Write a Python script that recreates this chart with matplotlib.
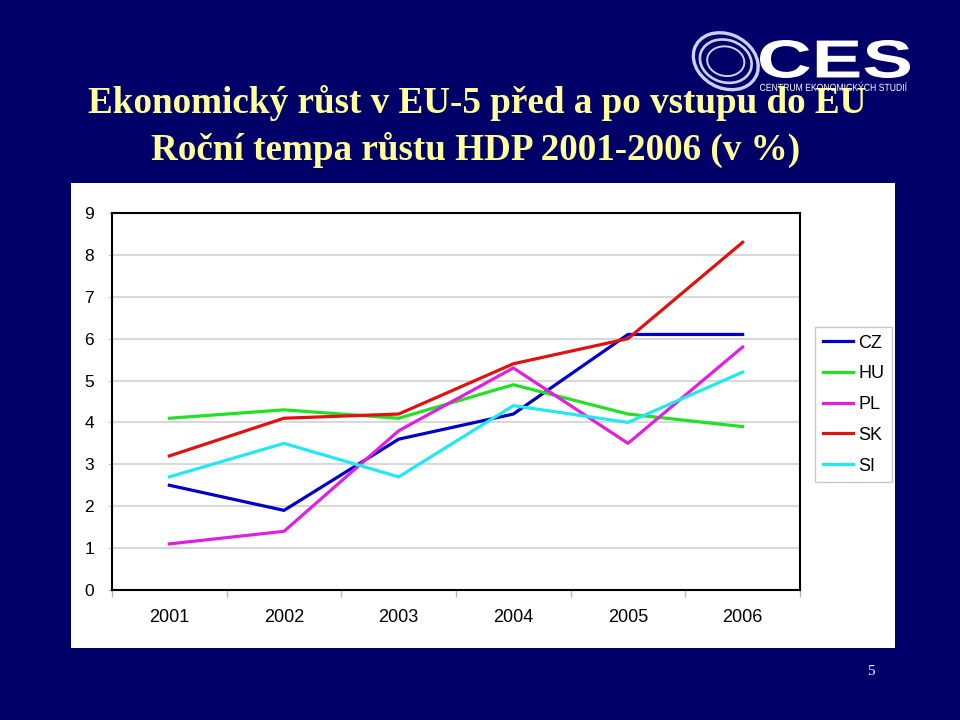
import numpy as np
import matplotlib.pyplot as plt
from matplotlib.patches import Rectangle, Ellipse, PathPatch
from matplotlib.textpath import TextPath
from matplotlib.font_manager import FontProperties
from matplotlib.transforms import Affine2D

years = ['2001', '2002', '2003', '2004', '2005', '2006']
countries = ['CZ', 'HU', 'PL', 'SK', 'SI']
cz = [2.5, 1.9, 3.6, 4.2, 6.1, 6.1]
hu = [4.1, 4.3, 4.1, 4.9, 4.2, 3.9]
pl = [1.1, 1.4, 3.8, 5.3, 3.5, 5.8]
sk = [3.2, 4.1, 4.2, 5.4, 6.0, 8.3]
si = [2.7, 3.5, 2.7, 4.4, 4.0, 5.2]
colors = ['#0000c8', '#22e022', '#e020e0', '#e0120f', '#22e8f0']

navy = '#000068'
sans = 'Liberation Sans'
serif = 'Liberation Serif'

fig = plt.figure(figsize=(9.6, 7.2), dpi=100)
fig.patch.set_facecolor(navy)


def boxed_text(s, x0, x1, y0, y1, weight='bold'):
    # stretch a text path to fill a box given in pixels from the top-left
    tp = TextPath((0, 0), s, size=1, prop=FontProperties(family=sans, weight=weight))
    ext = tp.get_extents()
    sx = (x1 - x0) / 100 / ext.width
    sy = (y1 - y0) / 100 / ext.height
    tr = Affine2D().translate(-ext.x0, -ext.y0).scale(sx, sy).translate(x0 / 100, (720 - y1) / 100)
    fig.patches.append(PathPatch(tp, transform=tr + fig.dpi_scale_trans,
                                 facecolor='white', edgecolor='none'))


# white panel behind the chart
fig.patches.append(Rectangle((0.074, 0.1), 0.858, 0.646, transform=fig.transFigure,
                             facecolor='white', edgecolor='none', zorder=-1))

# titles
fig.text(0.497, 0.857, 'Ekonomický růst v EU-5 před a po vstupu do EU', ha='center', va='center',
         color='#ffff99', fontsize=26.7, fontweight='bold', family=serif)
fig.text(0.495, 0.792, 'Roční tempa růstu HDP 2001-2006 (v %)', ha='center', va='center',
         color='#ffff99', fontsize=26.7, fontweight='bold', family=serif)

# rough CES logo
for i, (w, h) in enumerate([(0.064, 0.082), (0.052, 0.062), (0.038, 0.042)]):
    fig.patches.append(Ellipse((0.756, 0.915), w, h, angle=25, transform=fig.transFigure,
                               facecolor='none', edgecolor='#c8d2f0', lw=2.4 - i * 0.5))
boxed_text('CES', 760, 910, 40, 78)
boxed_text('CENTRUM EKONOMICKÝCH STUDIÍ', 760, 907, 82, 91, weight='normal')

# slide number
fig.text(0.907, 0.068, '5', ha='center', va='center', color='white', fontsize=11, family=serif)

ax = fig.add_axes([0.1167, 0.1806, 0.7166, 0.5236])
ax.set_zorder(1)
ax.set_facecolor('white')
x = np.arange(len(years))
for name, vals, c in zip(countries, [cz, hu, pl, sk, si], colors):
    ax.plot(x, vals, color=c, lw=2.3, label=name, zorder=3)

ax.set_xlim(-0.5, len(years) - 0.5)
ax.set_ylim(0, 9)
ax.set_yticks(range(10))
ax.set_xticks(x)
ax.set_xticklabels(years)
ax.set_xticks(np.arange(-0.5, len(years)), minor=True)
ax.tick_params(axis='x', which='major', length=0, pad=14, labelsize=13)
ax.tick_params(axis='x', which='minor', length=5, color='#bbbbbb', width=1)
ax.tick_params(axis='y', length=3, color='#cccccc', pad=10, labelsize=12.5)
for lab in ax.get_xticklabels() + ax.get_yticklabels():
    lab.set_family(sans)
ax.yaxis.grid(True, color='#d8d8d8', lw=1.5)
ax.set_axisbelow(True)
for sp in ax.spines.values():
    sp.set_color('black')
    sp.set_linewidth(1.5)

leg = fig.legend(loc='upper left', bbox_to_anchor=(0.849, 0.546), frameon=True,
                 prop={'family': sans, 'size': 13}, handlelength=1.7, handletextpad=0.25,
                 labelspacing=0.76, borderpad=0.43, fancybox=False, borderaxespad=0)
leg.get_frame().set_edgecolor('#bbbbbb')
leg.get_frame().set_linewidth(1)
leg.set_zorder(2)

fig.savefig('out.png', dpi=100, facecolor=fig.get_facecolor())
